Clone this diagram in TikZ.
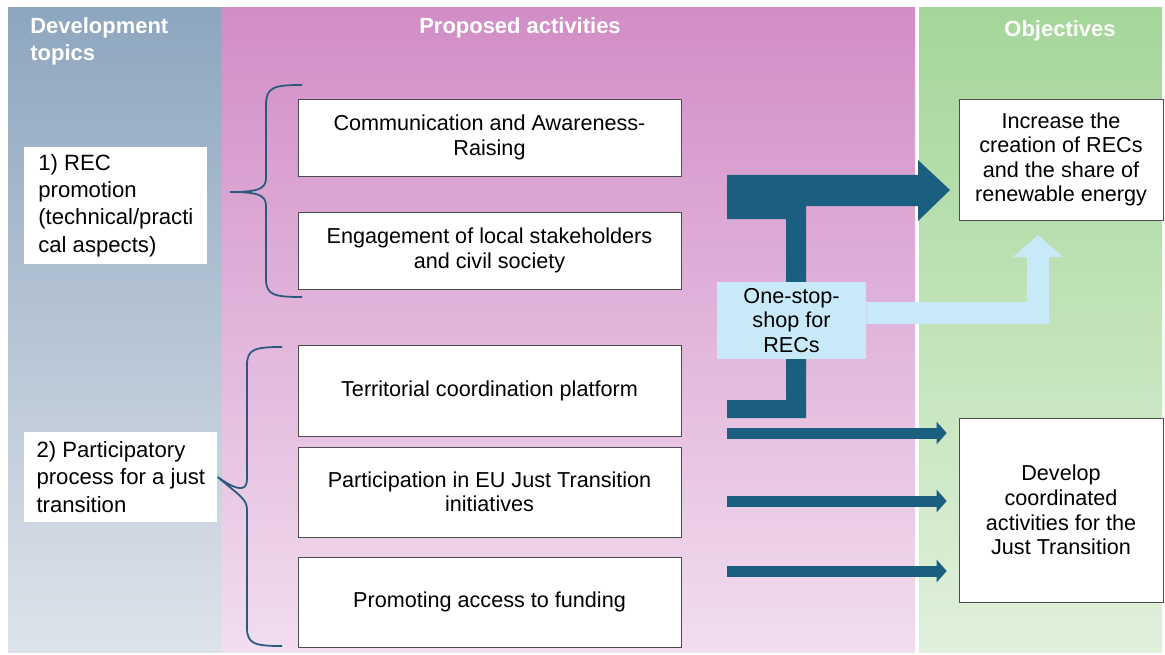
\documentclass[tikz,border=0pt]{standalone}
\usepackage{fontspec}
\setmainfont{Liberation Sans}
\usetikzlibrary{arrows.meta}

\definecolor{flowblue}{RGB}{26,95,128}
\definecolor{stopblue}{RGB}{200,233,248}
\definecolor{bracecol}{RGB}{40,90,125}

\begin{document}
\begin{tikzpicture}[x=0.02cm,y=-0.02cm,>={Triangle[length=0.2cm 0,width=0.44cm 0]}]
    \tikzstyle{head}=[text=white, font=\bfseries\fontsize{12.5}{15.3}\selectfont, inner sep=0pt]
    \tikzstyle{topic}=[fill=white, align=left, anchor=west, font=\fontsize{12.6}{15.5}\selectfont]
    \tikzstyle{act}=[draw=black!70, fill=white, minimum width=7.66cm, align=center, font=\fontsize{12.3}{13.9}\selectfont]
    \tikzstyle{goal}=[draw=black!70, fill=white, minimum width=4.08cm, align=center, font=\fontsize{12.3}{14}\selectfont]
    \tikzstyle{brace}=[draw=bracecol, line width=1pt]
    \tikzstyle{flow}=[draw=flowblue, line width=0.22cm, ->, shorten >=0.24cm]

    \useasboundingbox (0,0) rectangle (1165,655);

    % column backgrounds
    \shade[top color={rgb,255:red,141;green,166;blue,191}, bottom color={rgb,255:red,222;green,227;blue,234}] (8,8) rectangle (222,652);
    \shade[top color={rgb,255:red,210;green,141;blue,198}, bottom color={rgb,255:red,241;green,222;blue,239}] (222,8) rectangle (915,652);
    \shade[top color={rgb,255:red,164;green,214;blue,153}, bottom color={rgb,255:red,224;green,240;blue,219}] (919,8) rectangle (1162,652);

    \node[head, anchor=west, align=left] (h1) at (30,41.5) {Development\\topics};
    \node[head] (h2) at (520,28) {Proposed activities};
    \node[head] (h3) at (1060,31) {Objectives};

    % development topics
    \node[topic, minimum width=3.66cm, minimum height=2.34cm] (rec) at (24,205.5) {1) REC\\promotion\\(technical/practi\\cal aspects)};
    \node[topic, minimum width=3.86cm, minimum height=1.8cm] (jt) at (24,477) {2) Participatory\\process for a just\\transition};

    % activities
    \node[act, minimum height=1.54cm] (comm) at (489.5,137.5) {Communication and Awareness-\\Raising};
    \node[act, minimum height=1.54cm] (eng) at (489.5,250.5) {Engagement of local stakeholders\\and civil society};
    \node[act, minimum height=1.82cm] (terr) at (489.5,390.5) {Territorial coordination platform};
    \node[act, minimum height=1.8cm] (eu) at (489.5,492) {Participation in EU Just Transition\\initiatives};
    \node[act, minimum height=1.8cm] (fund) at (489.5,602) {Promoting access to funding};

    % objectives
    \node[goal, minimum height=2.42cm] (orec) at (1061,159.5) {Increase the\\creation of RECs\\and the share of\\renewable energy};
    \node[goal, minimum height=3.68cm] (ojt) at (1061,510) {Develop\\coordinated\\activities for the\\Just Transition};

    % braces
    \draw[brace] (302,85) .. controls (274,85) and (266,87) .. (266,105) -- (266,178)
        .. controls (266,189) and (258,192) .. (230,192)
        .. controls (258,192) and (266,195) .. (266,206) -- (266,279)
        .. controls (266,295) and (274,297) .. (302,297);
    \draw[brace] (282,347) .. controls (255,347) and (247,349) .. (247,365) -- (247,479)
        .. controls (247,490) and (240,493) .. (jt.east)
        .. controls (240,496) and (247,499) .. (247,510) -- (247,628)
        .. controls (247,644) and (255,646) .. (282,646);

    % big flow into the REC objective
    \fill[flowblue] (727,175) -- (918,175) -- (918,160) -- (950,190) -- (918,221) -- (918,206)
        -- (806,206) -- (806,418) -- (727,418) -- (727,400) -- (786,400) -- (786,219) -- (727,219) -- cycle;

    \node[fill=stopblue, minimum width=2.98cm, minimum height=1.54cm, align=center,
        font=\fontsize{12.3}{13.9}\selectfont] (oss) at (791.5,320.5) {One-stop-\\shop for\\RECs};
    \fill[stopblue] (oss.east |- 0,302) -- (1027,302) -- (1027,257) -- (1013,257) -- (1038,235)
        -- (1063,257) -- (1049,257) -- (1049,324) -- (oss.east |- 0,324) -- cycle;

    % arrows into the just transition objective
    \coordinate (s1) at (727,433);
    \coordinate (s2) at (727,501);
    \coordinate (s3) at (727,571);
    \draw[flow] (s1) -- (s1 -| ojt.west);
    \draw[flow] (s2) -- (s2 -| ojt.west);
    \draw[flow] (s3) -- (s3 -| ojt.west);
\end{tikzpicture}
\end{document}
